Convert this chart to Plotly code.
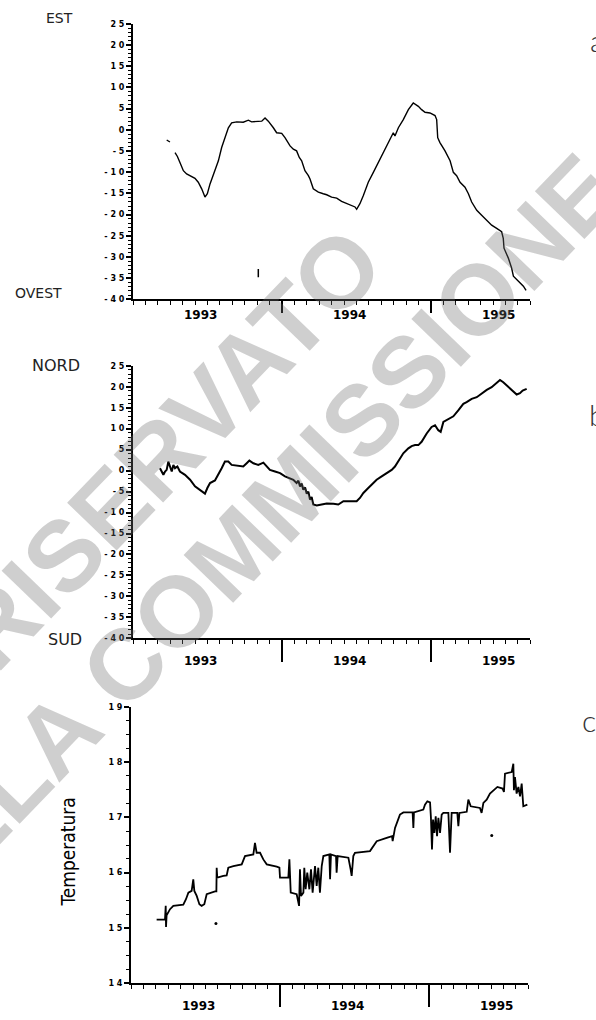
import plotly.graph_objects as go

# ---------------- data ----------------
# (a) East-West displacement
a_year = [1993.226, 1993.248, None, 1993.282, 1993.298, 1993.315, 1993.338, 1993.360, 1993.394,
          1993.416, 1993.438, 1993.461, 1993.483, 1993.499, 1993.517, 1993.550, 1993.573, 1993.595,
          1993.617, 1993.640, 1993.662, 1993.696, 1993.740, 1993.774, 1993.796, 1993.830, 1993.864,
          1993.886, 1993.908, 1993.942, 1993.964, 1993.998, 1994.020, 1994.054, 1994.076, 1994.098,
          1994.116, 1994.132, 1994.154, 1994.177, 1994.188, 1994.210, 1994.244, 1994.277, 1994.300,
          1994.333, 1994.367, 1994.400, 1994.434, 1994.468, 1994.490, 1994.501, 1994.523, 1994.546,
          1994.579, 1994.613, 1994.647, 1994.680, 1994.714, 1994.747, 1994.758, 1994.781, 1994.814,
          1994.848, 1994.881, 1994.915, 1994.937, 1994.960, 1994.993, 1995.027, 1995.038, 1995.045,
          1995.060, 1995.094, 1995.128, 1995.150, 1995.172, 1995.195, 1995.228, 1995.251, 1995.273,
          1995.307, 1995.340, 1995.374, 1995.407, 1995.441, 1995.474, 1995.485, 1995.490, 1995.519,
          1995.541, 1995.553, 1995.586, 1995.620, 1995.638]
a_val = [-2.40, -2.87, None, -5.36, -6.29, -7.69, -9.64, -10.42, -10.96,
         -11.43, -12.37, -13.92, -15.87, -15.09, -12.76, -9.64, -7.31, -4.19,
         -1.86, 0.48, 1.65, 1.88, 1.80, 2.27, 1.88, 2.04, 2.04,
         2.81, 2.04, 0.48, -0.69, -0.84, -1.86, -3.80, -4.58, -4.97,
         -6.53, -7.31, -9.64, -10.81, -11.59, -13.92, -14.70, -15.09, -15.32,
         -15.87, -16.10, -16.88, -17.42, -17.81, -18.20, -18.75, -17.42, -15.48,
         -12.37, -10.03, -7.69, -5.36, -3.02, -0.69, -1.47, 0.48, 2.42,
         4.76, 6.32, 5.54, 4.76, 4.14, 3.98, 3.36, 2.42, -1.86,
         -3.02, -4.97, -7.31, -10.03, -10.81, -12.37, -13.53, -15.09, -17.04,
         -18.98, -20.15, -21.32, -22.49, -23.26, -24.04, -25.60, -27.93, -30.27,
         -32.61, -34.55, -35.72, -36.89, -37.90]
a_dot_year = [1993.841]
a_dot_val = [-33.8]

# (b) North-South displacement
b_year = [1993.181, 1993.192, 1993.204, 1993.215, 1993.226, 1993.237, 1993.248, 1993.260, 1993.271,
          1993.282, 1993.298, 1993.315, 1993.349, 1993.383, 1993.416, 1993.450, 1993.483, 1993.499,
          1993.517, 1993.550, 1993.573, 1993.595, 1993.617, 1993.640, 1993.662, 1993.696, 1993.740,
          1993.763, 1993.781, 1993.808, 1993.841, 1993.875, 1993.897, 1993.919, 1993.953, 1993.987,
          1994.020, 1994.054, 1994.076, 1994.098, 1994.110, 1994.121, 1994.132, 1994.143, 1994.155,
          1994.166, 1994.177, 1994.188, 1994.199, 1994.210, 1994.233, 1994.266, 1994.300, 1994.345,
          1994.378, 1994.412, 1994.456, 1994.501, 1994.523, 1994.546, 1994.579, 1994.602, 1994.635,
          1994.669, 1994.703, 1994.736, 1994.758, 1994.781, 1994.814, 1994.848, 1994.870, 1994.893,
          1994.915, 1994.937, 1994.971, 1995.004, 1995.027, 1995.049, 1995.065, 1995.083, 1995.116,
          1995.150, 1995.183, 1995.217, 1995.239, 1995.273, 1995.307, 1995.340, 1995.374, 1995.407,
          1995.441, 1995.463, 1995.485, 1995.508, 1995.541, 1995.575, 1995.597, 1995.615, 1995.642]
b_val = [0.58, -0.21, -1.00, -0.21, 0.18, 2.15, 0.97, -0.21, 1.36,
         0.58, 0.97, -0.21, -1.00, -2.18, -3.76, -4.55, -5.49, -4.15,
         -2.97, -2.34, -1.00, 0.58, 2.15, 2.15, 1.36, 1.13, 0.97,
         1.76, 2.39, 1.76, 1.36, 1.91, 0.97, 0.18, -0.21, -0.61,
         -1.39, -1.79, -2.18, -2.97, -2.40, -3.76, -3.10, -4.55, -4.00,
         -5.49, -5.00, -6.91, -6.30, -8.09, -8.33, -8.09, -7.86, -7.93,
         -8.09, -7.30, -7.30, -7.30, -6.52, -5.33, -4.15, -3.36, -2.18,
         -1.39, -0.61, 0.18, 0.97, 2.15, 4.12, 5.30, 5.85, 6.09,
         6.09, 6.88, 8.85, 10.42, 10.82, 9.64, 9.24, 11.61, 12.24,
         12.95, 14.36, 15.94, 16.33, 17.12, 17.51, 18.46, 19.25, 19.88,
         21.06, 21.61, 21.06, 20.27, 19.09, 18.15, 18.46, 19.09, 19.48]

# (c) temperature
c_year = [1993.172, 1993.228, 1993.233, 1993.235, 1993.239, 1993.262, 1993.284, 1993.351, 1993.369,
          1993.385, 1993.407, 1993.418, 1993.425, 1993.441, 1993.459, 1993.474, 1993.492, 1993.508,
          1993.564, 1993.573, 1993.575, 1993.579, 1993.620, 1993.642, 1993.653, 1993.687, 1993.743,
          1993.765, 1993.821, 1993.832, 1993.843, 1993.866, 1993.888, 1993.911, 1993.978, 1993.996,
          1994.000, 1994.056, 1994.063, 1994.072, 1994.112, 1994.128, 1994.134, 1994.141, 1994.157,
          1994.163, 1994.172, 1994.183, 1994.197, 1994.208, 1994.219, 1994.235, 1994.246, 1994.257,
          1994.268, 1994.280, 1994.291, 1994.331, 1994.336, 1994.342, 1994.376, 1994.380, 1994.387,
          1994.459, 1994.474, 1994.481, 1994.492, 1994.503, 1994.604, 1994.649, 1994.716, 1994.752,
          1994.756, 1994.765, 1994.772, 1994.805, 1994.828, 1994.890, 1994.895, 1994.899, 1994.962,
          1994.973, 1994.989, 1995.007, 1995.013, 1995.020, 1995.027, 1995.036, 1995.045, 1995.054,
          1995.063, 1995.074, 1995.085, 1995.096, 1995.130, 1995.141, 1995.152, 1995.190, 1995.197,
          1995.204, 1995.253, 1995.264, 1995.280, 1995.342, 1995.353, 1995.365, 1995.387, 1995.409,
          1995.432, 1995.459, 1995.494, 1995.503, 1995.510, 1995.555, 1995.566, 1995.570, 1995.577,
          1995.588, 1995.600, 1995.611, 1995.622, 1995.633, 1995.660]
c_val = [15.15, 15.15, 15.40, 15.02, 15.23, 15.34, 15.40, 15.42, 15.52,
         15.64, 15.67, 15.88, 15.67, 15.58, 15.43, 15.40, 15.43, 15.61,
         15.66, 15.66, 16.09, 15.91, 15.94, 15.95, 16.09, 16.12, 16.15,
         16.30, 16.33, 16.54, 16.36, 16.36, 16.24, 16.15, 16.11, 16.09,
         15.91, 15.91, 16.24, 15.64, 15.61, 15.40, 16.06, 15.58, 15.64,
         16.09, 15.70, 16.00, 15.70, 16.06, 15.64, 16.12, 15.76, 16.09,
         15.64, 16.12, 16.30, 16.33, 15.88, 16.33, 16.30, 16.00, 16.30,
         16.27, 16.06, 15.94, 16.30, 16.36, 16.39, 16.57, 16.63, 16.66,
         16.57, 16.72, 16.81, 17.05, 17.09, 17.09, 16.81, 17.09, 17.14,
         17.23, 17.29, 17.27, 16.99, 16.42, 16.96, 16.72, 17.02, 16.66,
         16.99, 16.72, 17.05, 17.08, 17.08, 16.36, 17.08, 17.08, 16.84,
         17.08, 17.10, 17.32, 17.20, 17.17, 17.08, 17.26, 17.32, 17.43,
         17.49, 17.55, 17.52, 17.46, 17.79, 17.82, 17.97, 17.49, 17.73,
         17.43, 17.55, 17.38, 17.61, 17.20, 17.23]
c_dot_year = [1993.570, 1995.421]
c_dot_val = [15.08, 16.67]

# axis ticks and labels
disp_tickvals = [-40, -35, -30, -25, -20, -15, -10, -5, 0, 5, 10, 15, 20, 25]
disp_ticktext = ["- 4 0", "- 3 5", "- 3 0", "- 2 5", "- 2 0", "- 1 5", "- 1 0", "- 5",
                 "0", "5", "1 0", "1 5", "2 0", "2 5"]
temp_tickvals = [14, 15, 16, 17, 18, 19]
temp_ticktext = ["1 4", "1 5", "1 6", "1 7", "1 8", "1 9"]
year_bounds = [1994, 1995]
year_labels = ["1993", "1994", "1995"]
year_label_pos = [1993.45, 1994.45, 1995.45]

X_RANGE = [1993.0, 1995.0 + 8 / 12]
W, H = 596, 1020


def px(x):
    return x / W


def py(y):
    return 1 - y / H


fig = go.Figure()

fig.add_trace(go.Scatter(x=a_year, y=a_val, mode="lines", line=dict(color="black", width=1.4),
                         xaxis="x", yaxis="y", connectgaps=False))
fig.add_trace(go.Scatter(x=a_dot_year, y=a_dot_val, mode="markers",
                         marker=dict(symbol="line-ns", size=6, line=dict(width=1.5, color="black")),
                         xaxis="x", yaxis="y"))
fig.add_trace(go.Scatter(x=b_year, y=b_val, mode="lines", line=dict(color="black", width=2),
                         xaxis="x2", yaxis="y2"))
fig.add_trace(go.Scatter(x=c_year, y=c_val, mode="lines", line=dict(color="black", width=1.8),
                         xaxis="x3", yaxis="y3"))
fig.add_trace(go.Scatter(x=c_dot_year, y=c_dot_val, mode="markers",
                         marker=dict(size=3, color="black"), xaxis="x3", yaxis="y3"))

tick_font = dict(family="DejaVu Sans", size=8, color="black", weight="bold")


def xaxis(domain, anchor, ticklen):
    return dict(domain=domain, anchor=anchor, range=X_RANGE, showgrid=False, zeroline=False,
                showline=True, linecolor="black", linewidth=2,
                tickmode="array", tickvals=year_bounds, ticktext=["", ""],
                ticks="outside", ticklen=ticklen, tickwidth=1.5, tickcolor="black",
                minor=dict(tickmode="linear", tick0=1993, dtick=1 / 12, ticks="outside",
                           ticklen=4, tickwidth=1, tickcolor="black", showgrid=False))


def yaxis(domain, anchor, rng, vals, text, minor_step):
    return dict(domain=domain, anchor=anchor, range=rng, showgrid=False, zeroline=False,
                showline=True, linecolor="black", linewidth=2,
                tickmode="array", tickvals=vals, ticktext=text,
                ticks="outside", ticklen=5, tickwidth=1.5, tickcolor="black",
                tickfont=tick_font,
                minor=dict(tickmode="linear", tick0=rng[0], dtick=minor_step, ticks="outside",
                           ticklen=3, tickwidth=1, tickcolor="black", showgrid=False))


dom_x_ab = [px(133), px(133) + 2.6667 * 149 / W]
dom_x_c = [px(131), px(131) + 2.6667 * 149 / W]

fig.update_layout(
    width=W, height=H, margin=dict(l=0, r=0, t=0, b=0),
    paper_bgcolor="white", plot_bgcolor="rgba(0,0,0,0)", showlegend=False,
    xaxis=xaxis(dom_x_ab, "y", 12),
    yaxis=yaxis([py(298), py(20)], "x", [-40, 25], disp_tickvals, disp_ticktext, 1),
    xaxis2=xaxis(dom_x_ab, "y2", 22),
    yaxis2=yaxis([py(640), py(365)], "x2", [-40, 25], disp_tickvals, disp_ticktext, 1),
    xaxis3=xaxis(dom_x_c, "y3", 22),
    yaxis3=yaxis([py(988), py(709)], "x3", [14, 19], temp_tickvals, temp_ticktext, 0.25),
)


def label(text, x, y, font, angle=0, xanchor="center"):
    return dict(text=text, x=px(x), y=py(y), xref="paper", yref="paper", showarrow=False,
                xanchor=xanchor, yanchor="middle", textangle=angle, font=font)


ann = []
# year labels below each time axis
for xa, ya, off in (("x", "y", -0.058), ("x2", "y2", -0.084), ("x3", "y3", -0.082)):
    for lbl, pos in zip(year_labels, year_label_pos):
        ann.append(dict(text=lbl, x=pos, xref=xa, y=off, yref=ya + " domain",
                        showarrow=False, xanchor="center", yanchor="middle",
                        font=dict(family="DejaVu Sans", size=12, color="black", weight="bold")))

side_font = dict(family="DejaVu Sans", size=14, color="#222222")
big_side_font = dict(family="DejaVu Sans", size=16, color="#222222")
ann += [
    label("EST", 59, 14, side_font),
    label("OVEST", 38, 292, side_font),
    label("NORD", 56, 365, big_side_font),
    label("SUD", 65, 641, big_side_font),
    label("Temperatura", 68, 856,
          dict(family="Liberation Sans Narrow, DejaVu Sans Condensed, sans-serif",
               size=19, color="black"), angle=-90),
]

panel_font = dict(family="Lato", size=30, color="#333333", weight=300)
ann += [
    label("a", 588, 36, panel_font, xanchor="left"),
    label("b", 587, 414, panel_font, xanchor="left"),
    label("c", 580, 722, panel_font, xanchor="left"),
]

# diagonal stamp across the page
stamp_font = dict(family="Liberation Sans", size=100, color="rgba(110,110,110,0.33)",
                  weight="bold")
ann += [
    label("RISERVATO", 167, 448, stamp_font, angle=-46),
    label("ALLA COMMISSIONE", 249, 537, stamp_font, angle=-46),
]

fig.update_layout(annotations=ann)
fig.write_html("out.html")
